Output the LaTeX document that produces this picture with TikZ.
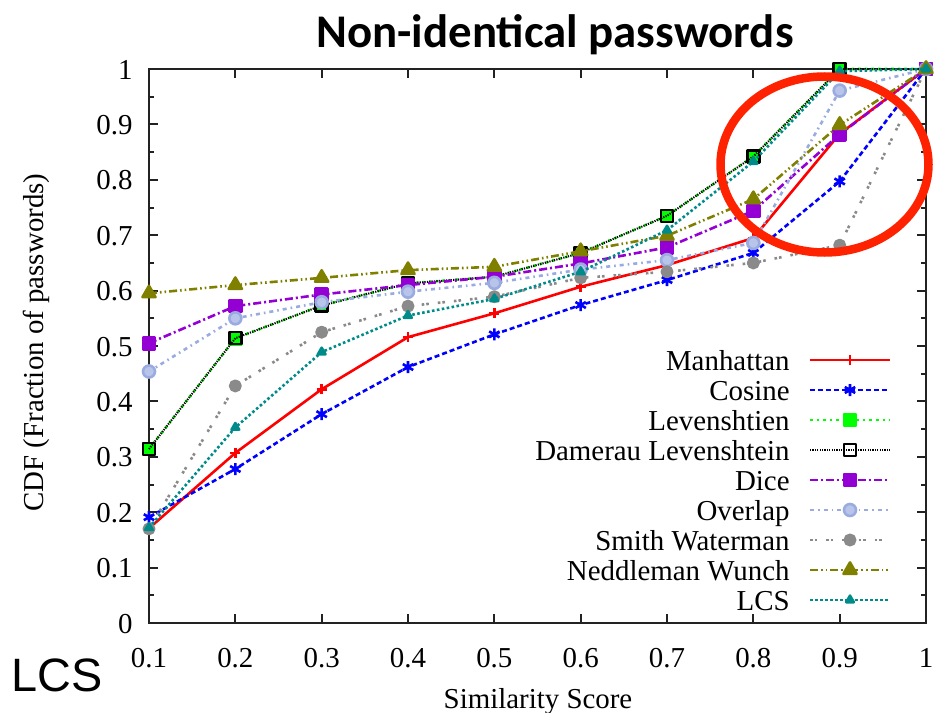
\documentclass[tikz,border=0pt]{standalone}
\usepackage{fontspec}
\setmainfont{Liberation Serif}
\newfontfamily\titlefont{Carlito}
\newfontfamily\arialfont{Liberation Sans}
\usetikzlibrary{plotmarks}
\definecolor{manhCol}{HTML}{FF0000}
\definecolor{cosCol}{HTML}{0000FF}
\definecolor{levCol}{HTML}{00FF00}
\definecolor{diceCol}{HTML}{9400D3}
\definecolor{ovlCol}{HTML}{9AABE0}
\definecolor{swCol}{HTML}{8A8A8A}
\definecolor{nwCol}{HTML}{808000}
\definecolor{lcsCol}{HTML}{008B8B}
\definecolor{ringCol}{HTML}{FF2200}
\definecolor{axisCol}{HTML}{222222}

\begin{document}
\begin{tikzpicture}[
  x=0.5bp, y=-0.5bp,
  font=\fontsize{14.5}{17}\selectfont,
  axis/.style={draw=axisCol, line width=1bp},
  series/.style={line width=1.3bp, line join=round, mark options={solid}},
  manh/.style={series, draw=manhCol, mark=+, mark size=2.5bp, mark options={solid, line width=1.3bp}},
  cosn/.style={series, draw=cosCol, dash pattern=on 2.5bp off 1.5bp, mark=asterisk, mark size=3bp, mark options={solid, line width=1.3bp}},
  levn/.style={series, draw=levCol, dash pattern=on 1.3bp off 2bp, mark=square*, mark size=3bp, mark options={solid, fill=levCol}},
  damr/.style={series, draw=black, line width=1bp, dash pattern=on 0.6bp off 0.6bp, mark=square, mark size=3bp, mark options={solid, line width=1.2bp}},
  dice/.style={series, draw=diceCol, dash pattern=on 4bp off 1.5bp on 1bp off 1.5bp, mark=square*, mark size=3bp, mark options={solid, fill=diceCol}},
  ovlp/.style={series, draw=ovlCol, dash pattern=on 2bp off 2bp on 0.8bp off 2bp, mark=*, mark size=3bp, mark options={solid, fill=ovlCol!70}},
  smwt/.style={series, draw=swCol, dash pattern=on 1.3bp off 1bp on 1.3bp off 4.5bp, mark=*, mark size=2.6bp, mark options={solid, fill=swCol}},
  ndwn/.style={series, draw=nwCol, dash pattern=on 4bp off 1.5bp on 0.8bp off 1.5bp on 0.8bp off 1.5bp, mark=triangle*, mark size=3.8bp, mark options={solid, fill=nwCol}},
  lcsl/.style={series, draw=lcsCol, dash pattern=on 1.3bp off 1.2bp, mark=triangle*, mark size=2.2bp, mark options={solid, fill=lcsCol}},
  ticklbl/.style={inner sep=0pt}
]
\useasboundingbox (0,0) rectangle (935,713);

% title and side mark
\node[font=\titlefont\bfseries\fontsize{23.5}{28}\selectfont, anchor=base] (title) at (555,47) {Non-identical passwords};
\node[font=\arialfont\fontsize{23.5}{28}\selectfont, anchor=base] (lcsmark) at (57.5,691) {LCS};

% axis labels
\node[rotate=90, anchor=base] (ylabel) at (43,342.5) {CDF (Fraction of passwords)};
\node[anchor=base] (xlabel) at (538,708) {Similarity Score};

% data area
\begin{scope}[shift={(31.33bp,-311.5bp)}, x=431.67bp, y=277bp]
  % frame and ticks
  \draw[axis] (0.1,0) rectangle (1,1);
  \foreach \k in {0,...,20}{
    \ifodd\k
      \draw[axis] (0.1,\k/20) -- ++(2.5bp,0pt);
      \draw[axis] (1,\k/20) -- ++(-2.5bp,0pt);
    \else
      \draw[axis] (0.1,\k/20) -- ++(4.5bp,0pt);
      \draw[axis] (1,\k/20) -- ++(-4.5bp,0pt);
    \fi
  }
  \foreach \t [count=\c] in {0.1,0.2,0.3,0.4,0.5,0.6,0.7,0.8,0.9,1}{
    \draw[axis] (\t,0) -- ++(0pt,4.5bp);
    \draw[axis] (\t,1) -- ++(0pt,-4.5bp);
    \node[ticklbl, anchor=base] (xt\c) at ([yshift=-22bp]\t,0) {\t};
  }
  \foreach \t [count=\c] in {0,0.1,0.2,0.3,0.4,0.5,0.6,0.7,0.8,0.9,1}{
    \node[ticklbl, anchor=base east] (yt\c) at ([xshift=-8bp, yshift=-5bp]0.1,\t) {\t};
  }

  % curves
  \draw[manh] plot coordinates {(0.1,0.171) (0.2,0.307) (0.3,0.422) (0.4,0.516) (0.5,0.559) (0.6,0.607) (0.7,0.646) (0.8,0.695) (0.9,0.883) (1,1)};
  \draw[cosn] plot coordinates {(0.1,0.191) (0.2,0.278) (0.3,0.377) (0.4,0.462) (0.5,0.521) (0.6,0.574) (0.7,0.619) (0.8,0.668) (0.9,0.797) (1,1)};
  \draw[levn] plot coordinates {(0.1,0.314) (0.2,0.514) (0.3,0.573) (0.4,0.613) (0.5,0.625) (0.6,0.668) (0.7,0.735) (0.8,0.842) (0.9,1) (1,1)};
  \draw[damr] plot coordinates {(0.1,0.314) (0.2,0.514) (0.3,0.573) (0.4,0.613) (0.5,0.625) (0.6,0.668) (0.7,0.735) (0.8,0.842) (0.9,1) (1,1)};
  \draw[dice] plot coordinates {(0.1,0.505) (0.2,0.572) (0.3,0.593) (0.4,0.61) (0.5,0.625) (0.6,0.649) (0.7,0.678) (0.8,0.744) (0.9,0.882) (1,1)};
  \draw[ovlp] plot coordinates {(0.1,0.454) (0.2,0.55) (0.3,0.579) (0.4,0.598) (0.5,0.614) (0.6,0.638) (0.7,0.655) (0.8,0.686) (0.9,0.961) (1,1)};
  \draw[smwt] plot coordinates {(0.1,0.17) (0.2,0.428) (0.3,0.525) (0.4,0.572) (0.5,0.589) (0.6,0.623) (0.7,0.634) (0.8,0.65) (0.9,0.682) (1,1)};
  \draw[ndwn] plot coordinates {(0.1,0.595) (0.2,0.61) (0.3,0.623) (0.4,0.637) (0.5,0.643) (0.6,0.671) (0.7,0.699) (0.8,0.765) (0.9,0.899) (1,1)};
  \draw[lcsl] plot coordinates {(0.1,0.172) (0.2,0.353) (0.3,0.489) (0.4,0.555) (0.5,0.585) (0.6,0.634) (0.7,0.709) (0.8,0.833) (0.9,0.996) (1,1)};
\end{scope}

% legend
\foreach \name/\sty [count=\i from 0] in {Manhattan/manh, Cosine/cosn, Levenshtien/levn, Damerau Levenshtein/damr, Dice/dice, Overlap/ovlp, Smith Waterman/smwt, Neddleman Wunch/ndwn, LCS/lcsl}{
  \node[anchor=base east, inner sep=0pt] (lg\i) at (790,370+30*\i) {\name};
  \draw[\sty] (810,360+30*\i) -- (890,360+30*\i);
  \path[\sty] plot coordinates {(850,360+30*\i)};
}

% highlight ring
\draw[draw=ringCol, line width=4.25bp] (824.5,164.5) ellipse [x radius=104, y radius=88];

\end{tikzpicture}
\end{document}
